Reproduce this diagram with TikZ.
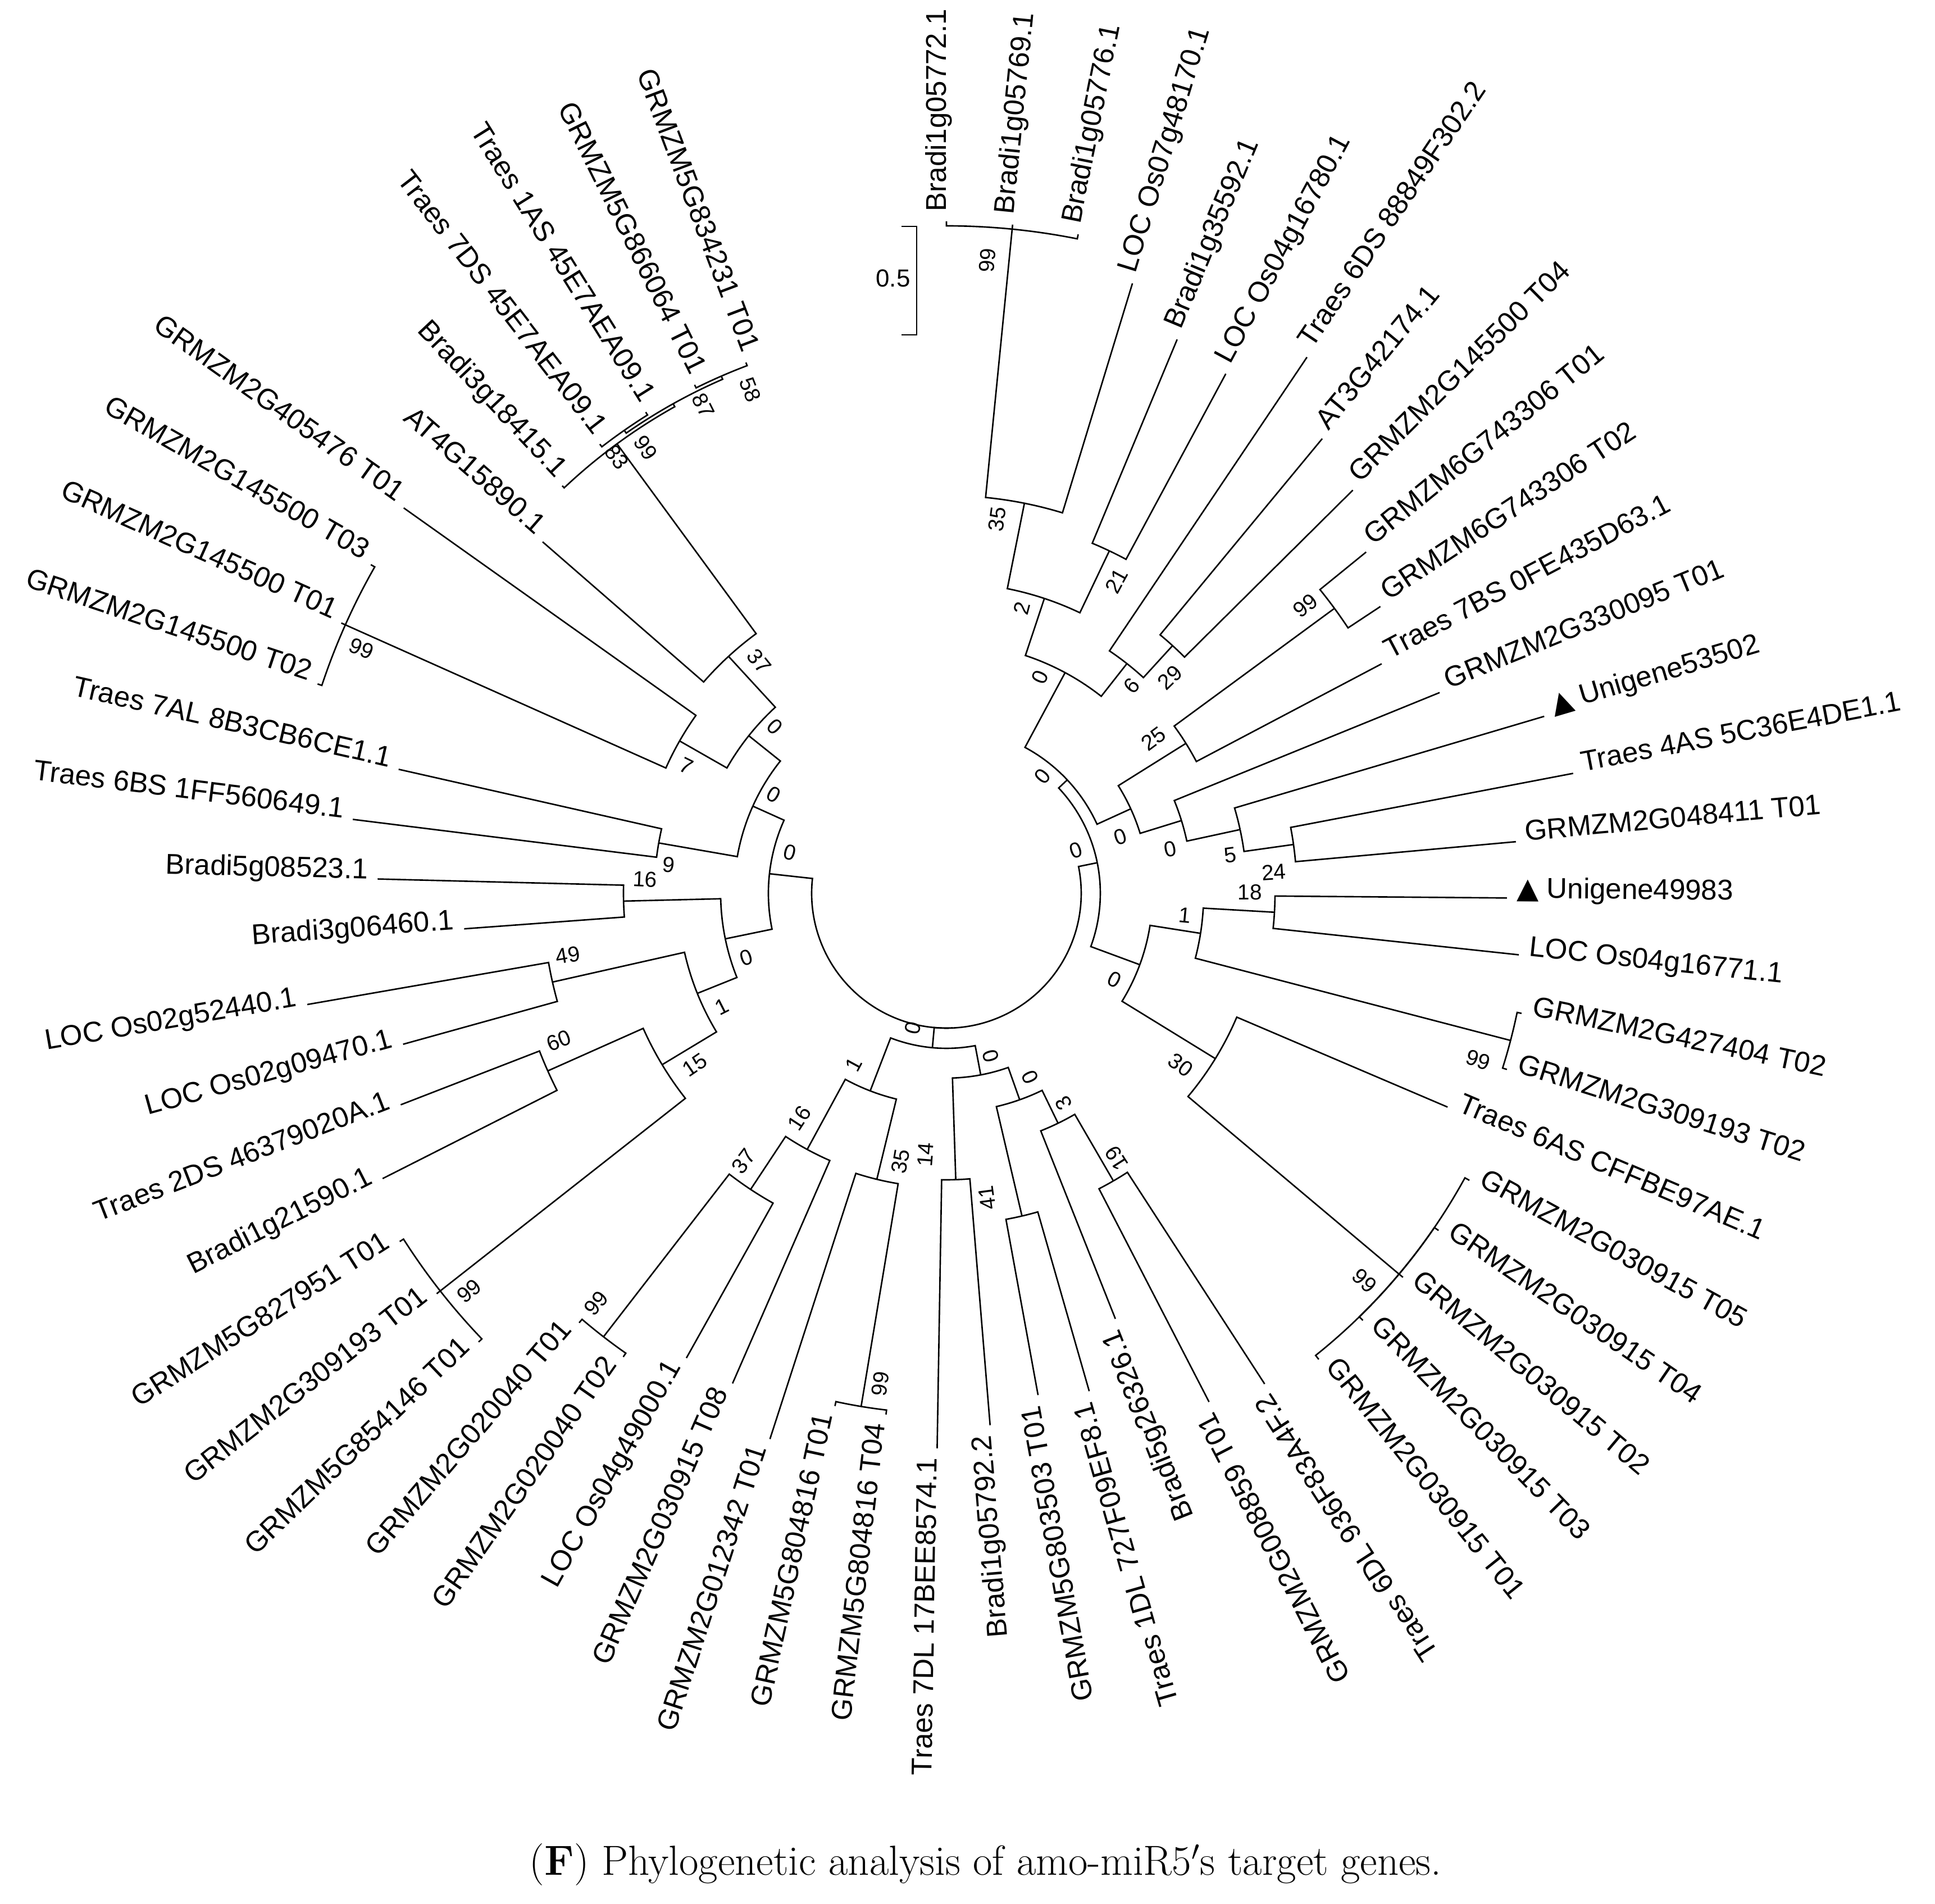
\documentclass[tikz,border=0pt]{standalone}
\usepackage{fontspec}
\usepackage{graphicx}
\setsansfont{Liberation Sans}
\newfontfamily\trifont{DejaVu Sans}
\usetikzlibrary{calc}

% elbow from a parent node to a child: arc at the parent's radius, then radial line
\newcommand\conn[2]{%
  \draw[branch] let \p1=(#1), \p2=(#2),
      \n1={atan2(\y1,\x1)}, \n2={veclen(\x1,\y1)},
      \n3={atan2(\y2,\x2)}, \n4={mod((\n3)-(\n1)+540,360)-180}
    in (#1) arc[start angle=\n1, delta angle=\n4, radius=\n2] -- (#2);}

\begin{document}
\begin{tikzpicture}[
    branch/.style={line width=0.75pt, black},
    leafR/.style={font=\sffamily\fontsize{14.5}{16}\selectfont, anchor=base west,
        inner xsep=0.17cm, inner ysep=0pt},
    leafL/.style={font=\sffamily\fontsize{14.5}{16}\selectfont, anchor=base east,
        inner xsep=0.17cm, inner ysep=0pt},
    boot/.style={font=\sffamily\fontsize{11}{12}\selectfont, inner sep=0pt},
    capt/.style={font=\fontsize{21.3}{25}\selectfont, inner sep=0pt, anchor=base west}
]
    \useasboundingbox (-16.85,-17.99) rectangle (17.60,15.90);

    % internal nodes: name / angle / radius
    \foreach \nm/\ang/\rad in {root/-87.42/2.40,
        L1/173.70/3.17, L2/155.77/3.78, L3/-168.36/4.02, B0/-95.2/2.76, R1/11.45/2.74,
        R2/43.17/2.95, G/61.72/4.46, D/71.62/5.53, B/78.69/7.08, A/84.345/11.88,
        C/64.55/6.75, F/51.83/5.20, E/47.59/5.97, Na/24.61/3.61, N25/32.04/5.03,
        H/36.28/8.57, Nb/17.19/4.38, N5/12.24/5.35, N24/8.0/6.24,
        Nc/-20.27/3.67, N1/-8.96/4.58, N18/-3.31/5.85, K99b/-14.62/10.38,
        N30/-31.58/5.62, K99c/-40.07/10.53,
        Nd/-79.30/3.29, Ne/-70.46/3.90, N14/-88.13/5.10, N41/-76.82/5.90,
        N3/-64.10/4.55, N19/-59.86/5.92, N1c/-111.1/3.77, N35/-103.68/5.24,
        K99d/-99.44/9.26, N16/-118.53/5.19, N37/-123.48/6.32, K99e/-127.72/9.98,
        N1b/-158.11/4.78, N15/-148.92/5.91, K99g/-141.855/11.46, N60/-155.99/7.77,
        N49/-167.30/7.19, N16b/-178.61/5.75, N9/170.08/5.20, Nf/141.45/4.50,
        N7/150.285/5.47, K99f/155.94/11.72, N37b/132.61/5.73, N83/126.25/9.92,
        N87/119.18/9.98, K99h/124.84/10.04, N58/113.53/10.04}
        \coordinate (\nm) at (\ang:\rad);

    % inner branches
    \foreach \pa/\ch in {root/L1, root/B0, root/R1,
        R1/R2, R1/Nc, R2/Na, R2/G, G/D, G/F, D/B, D/C, B/A, F/E,
        Na/N25, Na/Nb, N25/H, Nb/N5, N5/N24,
        Nc/N1, Nc/N30, N1/N18, N1/K99b, N30/K99c,
        B0/N1c, B0/Nd, N1c/N35, N1c/N16, N35/K99d, N16/N37, N37/K99e,
        Nd/N14, Nd/Ne, Ne/N41, Ne/N3, N3/N19,
        L1/L2, L1/L3, L2/N9, L2/Nf, Nf/N7, Nf/N37b, N7/K99f, N37b/N83,
        N83/N87, N87/K99h, N87/N58,
        L3/N16b, L3/N1b, N1b/N49, N1b/N15, N15/N60, N15/K99g}
        {\conn{\pa}{\ch}}

    % leaves: index / parent / tip radius / label
    \foreach \i/\pa/\tip/\txt in {
        1/A/11.96/Bradi1g05772.1, 2/A/11.96/Bradi1g05769.1, 3/A/11.96/Bradi1g05776.1,
        4/B/11.35/LOC Os07g48170.1, 5/C/10.68/Bradi1g35592.1, 6/C/10.50/LOC Os04g16780.1,
        7/F/11.50/Traes 6DS 88849F302.2, 8/E/10.50/AT3G42174.1, 9/E/10.19/GRMZM2G145500 T04,
        10/H/9.63/GRMZM6G743306 T01, 11/H/9.26/GRMZM6G743306 T02,
        12/N25/8.76/Traes 7BS 0FE435D63.1, 13/Nb/9.48/GRMZM2G330095 T01,
        14/N5/11.10/{\trifont ▲}~Unigene53502, 15/N24/11.36/Traes 4AS 5C36E4DE1.1,
        16/N24/10.18/GRMZM2G048411 T01, 17/N18/9.98/{\trifont ▲}~Unigene49983,
        18/N18/10.25/LOC Os04g16771.1, 19/K99b/10.46/GRMZM2G427404 T02,
        20/K99b/10.46/GRMZM2G309193 T02, 21/N30/9.70/Traes 6AS CFFBE97AE.1,
        22/K99c/10.62/GRMZM2G030915 T05, 23/K99c/10.62/GRMZM2G030915 T04,
        24/K99c/10.62/GRMZM2G030915 T02, 25/K99c/10.62/GRMZM2G030915 T03,
        26/K99c/10.62/GRMZM2G030915 T01, 27/N19/10.41/Traes 6DL 936F83A4F.2,
        28/N19/10.19/GRMZM2G008859 T01, 29/N3/8.15/Bradi5g26326.1,
        30/N41/9.22/Traes 1DL 727F09EF8.1, 31/N41/9.08/GRMZM5G803503 T01,
        32/N14/9.50/Bradi1g05792.2, 33/N14/9.88/Traes 7DL 17BEE8574.1,
        34/K99d/9.34/GRMZM5G804816 T04, 35/K99d/9.34/GRMZM5G804816 T01,
        36/N35/10.21/GRMZM2G012342 T01, 37/N16/9.52/GRMZM2G030915 T08,
        38/N37/9.48/LOC Os04g49000.1, 39/K99e/10.06/GRMZM2G020040 T02,
        40/K99e/10.06/GRMZM2G020040 T01, 41/K99g/11.54/GRMZM5G854146 T01,
        42/K99g/11.54/GRMZM2G309193 T01, 43/K99g/11.54/GRMZM5G827951 T01,
        44/N60/11.25/Bradi1g21590.1, 45/N60/10.42/Traes 2DS 46379020A.1,
        46/N49/10.04/LOC Os02g09470.1, 47/N49/11.55/LOC Os02g52440.1,
        48/N16b/8.61/Bradi3g06460.1, 49/N16b/10.13/Bradi5g08523.1,
        50/N9/10.65/Traes 6BS 1FF560649.1, 51/N9/10.00/Traes 7AL 8B3CB6CE1.1,
        52/K99f/11.80/GRMZM2G145500 T02, 53/K99f/11.80/GRMZM2G145500 T01,
        54/K99f/11.80/GRMZM2G145500 T03, 55/N7/11.85/GRMZM2G405476 T01,
        56/N37b/9.53/AT4G15890.1, 57/N83/9.97/Bradi3g18415.1,
        58/K99h/10.10/Traes 7DS 45E7AEA09.1, 59/K99h/10.10/Traes 1AS 45E7AEA09.1,
        60/N58/10.10/GRMZM5G866064 T01, 61/N58/10.10/GRMZM5G834231 T01}{
        \pgfmathsetmacro\ang{90-(\i-1)*5.655}
        \coordinate (t\i) at (\ang:\tip);
        \ifnum\i<27
            \node[leafR, rotate=\ang] (l\i) at (t\i) {\txt};
        \else
            \node[leafL, rotate=\ang+180] (l\i) at (t\i) {\txt};
        \fi
        \conn{\pa}{t\i}
    }

    % bootstrap values
    \foreach \nm/\ang/\rad/\val in {A/86.3/11.29/99, B/82.3/6.72/35, D/75.2/5.25/2,
        C/61.4/6.33/21, G/66.5/4.19/0, F/48.2/4.95/6, E/44.0/5.53/29, H/38.7/8.19/99,
        N25/36.7/4.60/25, R2/50.6/2.70/0, Na/18.0/3.26/0, Nb/11.2/4.06/0,
        N5/7.7/5.10/5, N24/3.7/5.84/24, N18/0.2/5.40/18, N1/-5.3/4.26/1,
        R1/18.4/2.43/0, Nc/-27.2/3.36/0, K99b/-17.4/9.92/99, N30/-36.2/5.17/30,
        K99c/-42.8/10.15/99, B0/-103.9/2.47/0, Nd/-74.7/3.00/0, Ne/-65.5/3.60/0,
        N3/-60.8/4.28/3, N19/-57.3/5.61/19, N41/-82.4/5.47/41, N14/-94.6/4.67/14,
        N35/-99.7/4.84/35, N1c/-118.4/3.47/1, N16/-123.2/4.78/16, N37/-127.1/5.98/37,
        K99d/-97.7/8.81/99, K99e/-130.5/9.60/99, K99g/-140.2/11.06/99,
        N15/-145.7/5.42/15, N1b/-153.2/4.48/1, N60/-159.2/7.38/60, N49/-170.7/6.83/49,
        L3/-162.2/3.74/0, N16b/177.4/5.37/16, N9/174.2/4.97/9, L1/165.4/2.88/0,
        L2/150.3/3.54/0, Nf/135.8/4.26/0, N7/153.9/5.16/7, N37b/128.9/5.31/37,
        K99f/157.3/11.29/99, N83/127.1/9.73/83, K99h/124.0/9.57/99,
        N87/116.5/9.70/87, N58/111.3/9.62/58}{
        \pgfmathsetmacro\rot{(\ang>-54 && \ang<100) ? \ang : \ang+180}
        \node[boot, rotate=\rot] (b\nm) at (\ang:\rad) {\val};
    }

    % scale bar
    \coordinate (sbtop) at (-0.53,11.87);
    \coordinate (sbbot) at (-0.53,9.94);
    \draw[branch] ([xshift=-0.27cm]sbtop) -- (sbtop) -- (sbbot) -- ([xshift=-0.27cm]sbbot);
    \node[font=\sffamily\fontsize{12.5}{14}\selectfont, inner sep=0pt] (sblabel)
        at (-0.95,10.95) {0.5};

    % caption
    \node[capt] (caption) at (-7.43,-17.48)
        {(\textbf{F}) Phylogenetic analysis of amo-miR5$'$s target genes.};
\end{tikzpicture}
\end{document}
